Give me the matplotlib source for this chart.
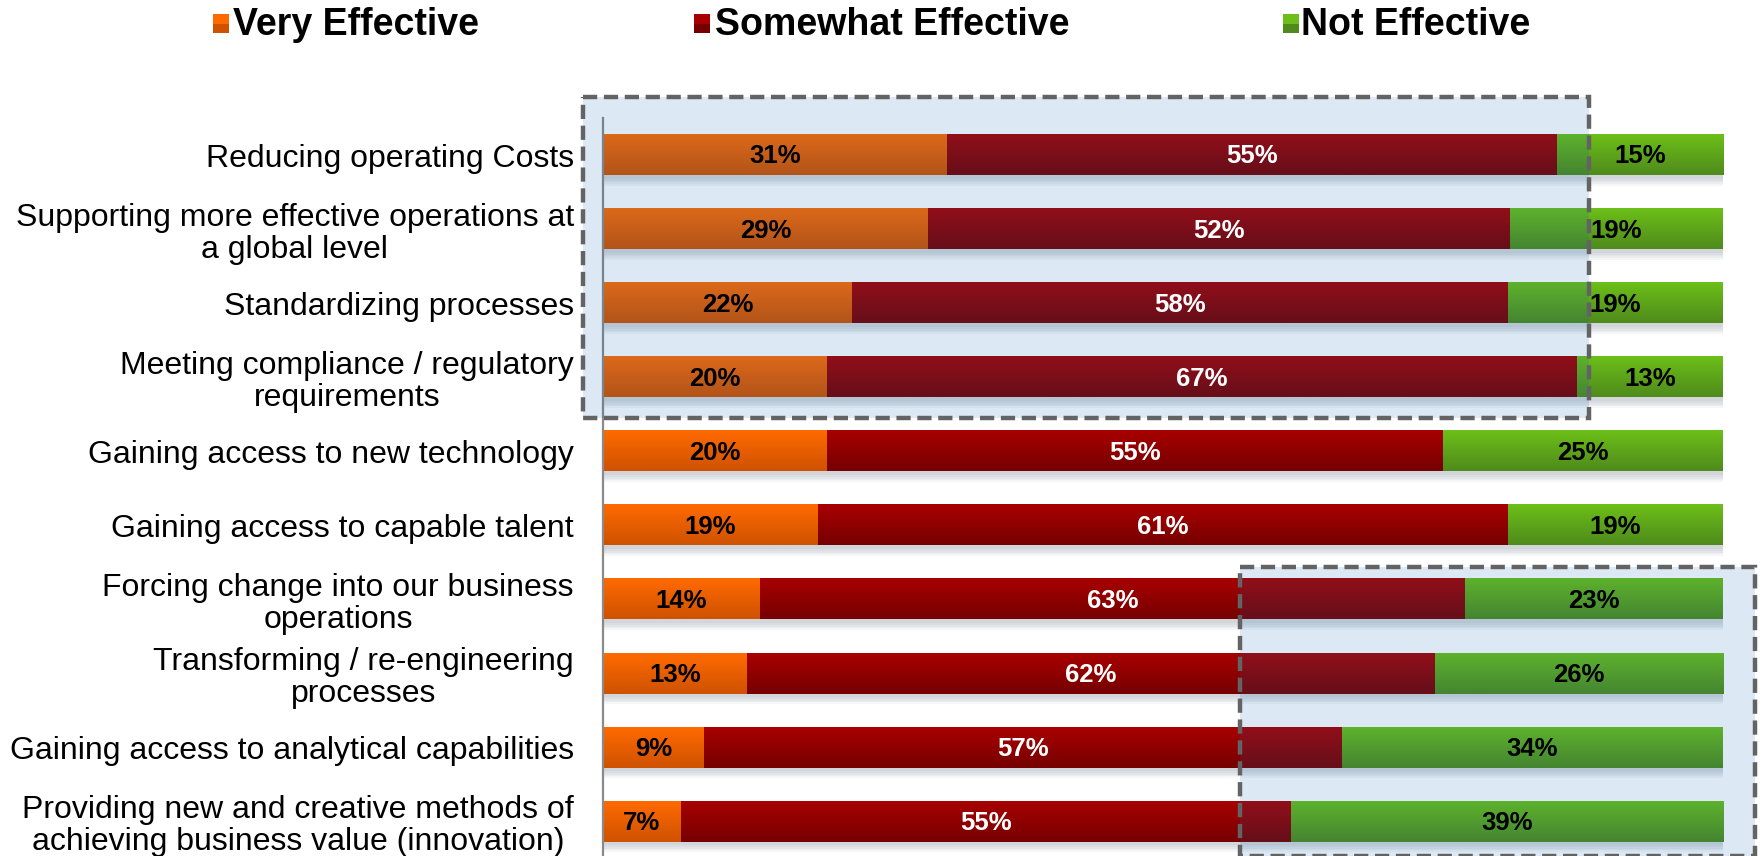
import numpy as np
import matplotlib
matplotlib.use("Agg")
import matplotlib.pyplot as plt
from matplotlib.patches import Rectangle
from matplotlib.colors import to_rgb

plt.rcParams['font.family'] = ['Liberation Sans', 'DejaVu Sans']

categories = [
    "Reducing operating Costs",
    "Supporting more effective operations at\na global level",
    "Standardizing processes",
    "Meeting compliance / regulatory\nrequirements",
    "Gaining access to new technology",
    "Gaining access to capable talent",
    "Forcing change into our business\noperations",
    "Transforming / re-engineering\nprocesses",
    "Gaining access to analytical capabilities",
    "Providing new and creative methods of\nachieving business value (innovation)",
]
very_effective = [31, 29, 22, 20, 20, 19, 14, 13, 9, 7]
somewhat_effective = [55, 52, 58, 67, 55, 61, 63, 62, 57, 55]
not_effective = [15, 19, 19, 13, 25, 19, 23, 26, 34, 39]
series_names = ["Very Effective", "Somewhat Effective", "Not Effective"]

# top / bottom colours of the vertical gradient for each series
grad = [("#ff6a00", "#cf5200"), ("#a80000", "#760000"), ("#6cbf18", "#4f8b1c")]
label_col = ["black", "white", "black"]

W, H = 1762, 856
fig = plt.figure(figsize=(W / 100, H / 100), dpi=100)
ax = fig.add_axes([603 / W, 0, (1723 - 603) / W, (856 - 118) / H])

bar_h = 0.55
n = len(categories)
ys = np.arange(n)


def gradient_bar(x0, width, yc, c_top, c_bot):
    t = np.linspace(0, 1, 32)[:, None, None]
    img = (1 - t) * np.array(to_rgb(c_top)) + t * np.array(to_rgb(c_bot))
    ax.imshow(img, extent=(x0, x0 + width, yc + bar_h / 2, yc - bar_h / 2),
              origin="upper", aspect="auto", interpolation="bilinear", zorder=3)


for i, y in enumerate(ys):
    vals = [very_effective[i], somewhat_effective[i], not_effective[i]]
    total = sum(vals)
    widths = [v / total * 100 for v in vals]
    # soft drop shadow under the bar
    for k in range(1, 6):
        ax.add_patch(Rectangle((0.1, y - bar_h / 2 + 0.03), 100.3, bar_h + 0.022 * k,
                               facecolor="#5a6a7a", edgecolor="none", alpha=0.06, zorder=2))
    left = 0
    for j, (v, w) in enumerate(zip(vals, widths)):
        gradient_bar(left, w, y, *grad[j])
        ax.text(left + w / 2, y + 0.02, f"{v}%", ha="center", va="center",
                fontsize=18.5, fontweight="bold", color=label_col[j], zorder=6)
        left += w

# dashed highlight boxes
for (x0, x1, y0, y1) in [(-1.8, 88.0, -0.79, 3.55), (56.9, 102.9, 5.57, 9.47)]:
    ax.add_patch(Rectangle((x0, y0), x1 - x0, y1 - y0, facecolor=(7 / 255, 100 / 255, 178 / 255, 0.14),
                           edgecolor="#636363", linewidth=3.2, linestyle=(0, (3.2, 1.5)),
                           clip_on=False, zorder=5))

ax.set_xlim(0, 100)
ax.set_ylim(n - 0.53, -0.5)
ax.set_yticks(ys)
ax.set_yticklabels(categories, fontsize=23, multialignment="center", linespacing=1.12)
ax.tick_params(axis="y", length=0, pad=21)
ax.set_xticks([])
for s in ["top", "right", "bottom"]:
    ax.spines[s].set_visible(False)
ax.spines["left"].set_color("#8a8a8a")
ax.spines["left"].set_linewidth(1.6)
ax.spines["left"].set_zorder(4)

# legend along the top
leg_x = [(213, 233), (694, 715), (1283, 1301)]
for (sq, tx), name, (ct, cb) in zip(leg_x, series_names, grad):
    fig.patches.append(Rectangle((sq / W, 1 - 33 / H), 16 / W, 19 / H, transform=fig.transFigure,
                                 facecolor=cb, edgecolor="none"))
    fig.patches.append(Rectangle((sq / W, 1 - 24 / H), 16 / W, 10 / H, transform=fig.transFigure,
                                 facecolor=ct, edgecolor="none"))
    fig.text(tx / W, 1 - 25 / H, name, fontsize=27, fontweight="bold", ha="left", va="center")

fig.savefig("out.png", dpi=100)
